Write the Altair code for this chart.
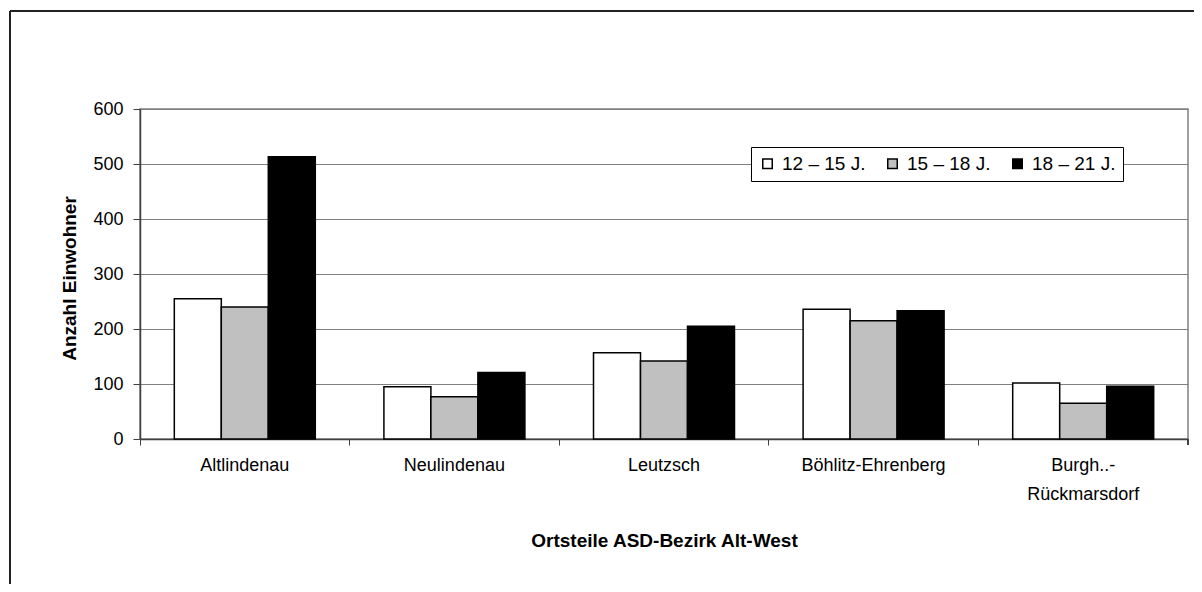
import altair as alt
import pandas as pd

categories = ["Altlindenau", "Neulindenau", "Leutzsch", "Böhlitz-Ehrenberg", "Burgh..-Rückmarsdorf"]
series = ["12 – 15 J.", "15 – 18 J.", "18 – 21 J."]
v12_15 = [255, 95, 157, 236, 102]
v15_18 = [240, 77, 142, 215, 65]
v18_21 = [513, 121, 205, 233, 96]
colors = ["#FFFFFF", "#C0C0C0", "#000000"]
y_ticks = [0, 100, 200, 300, 400, 500, 600]

rows = []
for s, vals in zip(series, [v12_15, v15_18, v18_21]):
    for c, v in zip(categories, vals):
        rows.append({"Ortsteil": c, "Gruppe": s, "Anzahl": v})
df = pd.DataFrame(rows)

W, H = 1048, 330
FONT = "Liberation Sans"

label_expr = ("datum.label == 'Burgh..-Rückmarsdorf' ? ['Burgh..-', 'Rückmarsdorf'] : datum.label")

bars = alt.Chart(df).mark_bar(stroke="black", strokeWidth=1.5).encode(
    x=alt.X("Ortsteil:N", sort=categories,
            scale=alt.Scale(paddingInner=0, paddingOuter=0),
            axis=alt.Axis(title="Ortsteile ASD-Bezirk Alt-West", bandPosition=0, labelAngle=0,
                          labelExpr=label_expr, labelFontSize=18, labelColor="black",
                          labelPadding=11, labelLineHeight=29, tickSize=6,
                          tickColor="#404040", domainColor="#404040", domainWidth=1.5,
                          titleFontSize=19, titleFontWeight="bold", titleColor="black",
                          titleBaseline="alphabetic", titleY=107, grid=False)),
    xOffset=alt.XOffset("Gruppe:N", sort=series,
                        scale=alt.Scale(paddingInner=0, paddingOuter=0.73)),
    y=alt.Y("Anzahl:Q", scale=alt.Scale(domain=[0, 600], nice=False),
            axis=alt.Axis(title="Anzahl Einwohner", values=y_ticks, labelFontSize=18,
                          labelColor="black", labelPadding=10, tickSize=7,
                          tickColor="#404040", domainColor="#404040", domainWidth=1.5,
                          gridColor="#808080", gridWidth=1.2,
                          titleFontSize=19, titleFontWeight="bold", titleColor="black",
                          titleBaseline="middle", titleX=-71, titleY=H / 2 + 4)),
    color=alt.Color("Gruppe:N", sort=series,
                    scale=alt.Scale(domain=series, range=colors),
                    legend=alt.Legend(title=None, orient="none", legendX=611, legendY=38,
                                      direction="horizontal", symbolType="square",
                                      symbolSize=90, symbolStrokeColor="black",
                                      symbolStrokeWidth=1.5, labelFontSize=19,
                                      labelColor="black", labelOffset=5, columnPadding=17,
                                      padding=7, strokeColor="black", fillColor="white")),
)

frame_left = alt.Chart(df).mark_rule(color="#222222", strokeWidth=1.5).encode(
    x=alt.value(-130), y=alt.value(-98), y2=alt.value(H + 150))
frame_top = alt.Chart(df).mark_rule(color="#222222", strokeWidth=1.5).encode(
    x=alt.value(-130), x2=alt.value(W + 20), y=alt.value(-98))
last_tick = alt.Chart(df).mark_rule(color="#404040", strokeWidth=1).encode(
    x=alt.value(W), y=alt.value(H), y2=alt.value(H + 6))

chart = alt.layer(bars, frame_left, frame_top, last_tick).properties(
    width=W, height=H,
    autosize=alt.AutoSizeParams(type="none"),
    padding={"left": 132, "top": 101, "right": 6, "bottom": 145},
    background="white",
).configure(font=FONT).configure_view(stroke="#808080", strokeWidth=1.5)

chart.save("out.html", embed_options={"renderer": "svg", "actions": False})
